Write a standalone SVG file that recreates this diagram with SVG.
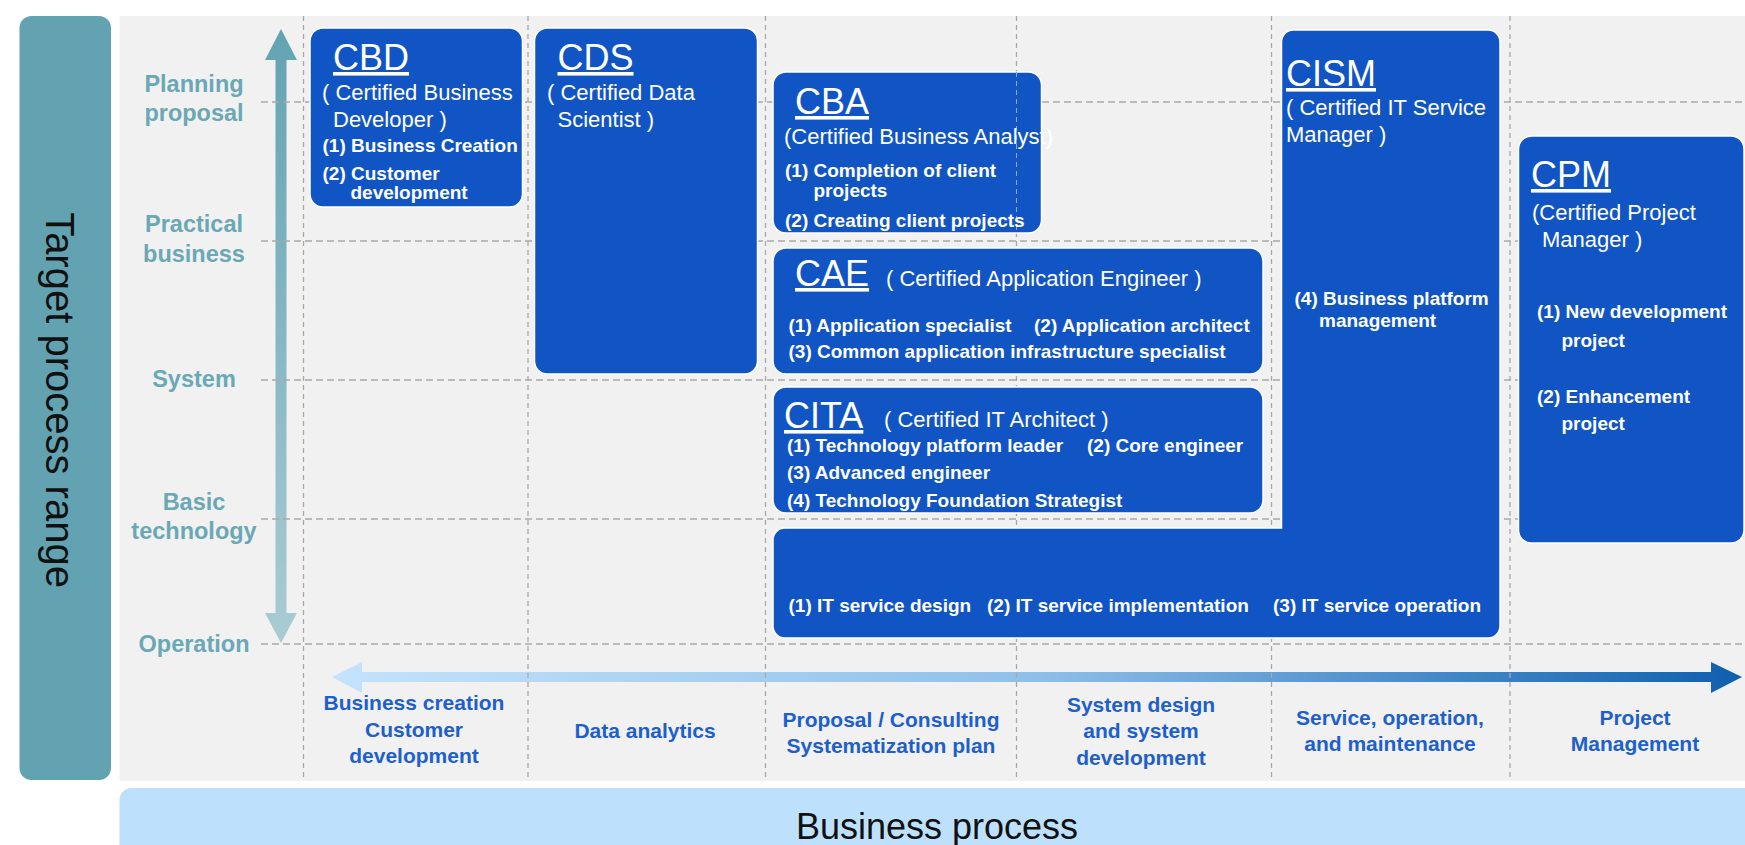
<svg xmlns="http://www.w3.org/2000/svg" width="1745" height="845" viewBox="0 0 1745 845">
<style>
text{font-family:"Liberation Sans",Arial,sans-serif;}
.box{fill:#1155c5;stroke:#ffffff;stroke-width:1.5;}
.grid{stroke:#a9a9a9;stroke-width:1.3;fill:none;}
.gh{stroke-dasharray:7 4;}
.gv{stroke-dasharray:5 4;}
.row{fill:#6aa8b6;font-weight:bold;font-size:23.5px;text-anchor:middle;}
.col{fill:#1d5fcb;font-weight:bold;font-size:21px;text-anchor:middle;}
.ttl{fill:#fff;font-size:36px;text-decoration:underline;}
.sub{fill:#fff;font-size:22px;}
.itm{fill:#fff;font-weight:bold;font-size:19px;}
</style>
<defs>
<linearGradient id="gv" x1="0" y1="0" x2="0" y2="1">
<stop offset="0" stop-color="#63a3b1"/>
<stop offset="1" stop-color="#a9ccd4"/>
</linearGradient>
<linearGradient id="gh" x1="0" y1="0" x2="1" y2="0">
<stop offset="0" stop-color="#c4e3fc"/>
<stop offset="0.5" stop-color="#8fbfe8"/>
<stop offset="1" stop-color="#0f5fae"/>
</linearGradient>
</defs>
<rect width="1745" height="845" fill="#ffffff"/>
<g id="axis-vertical-band">
<rect x="19.5" y="16" width="91.5" height="764" rx="12" fill="#63a3b1"/>
<text transform="translate(46,400) rotate(90)" font-size="40" text-anchor="middle" fill="#111">Target process range</text>
</g>
<rect id="background" x="119.5" y="16" width="1626" height="765" fill="#f1f1f1"/>
<g id="business-process-band">
<path d="M119.5,845 V800 A12,12 0 0 1 131.5,788 H1745 V845 Z" fill="#bde0fd"/>
<text x="937" y="839" font-size="36" text-anchor="middle" fill="#111">Business process</text>
</g>
<g id="connectors">
<path d="M281,29 L297,60 L286.5,60 L286.5,613 L297,613 L281,643 L265,613 L275.5,613 L275.5,60 L265,60 Z" fill="url(#gv)"/>
<path d="M332,677 L362,662 L362,672 L1711,672 L1711,662 L1742,677 L1711,693 L1711,682 L362,682 L362,693 Z" fill="url(#gh)"/>
</g>
<g id="grid">
<path class="grid gh" d="M261,102 H1745 M261,241 H1745 M261,380 H1745 M261,519 H1745 M261,644 H1745"/>
<path class="grid gv" d="M303.5,16 V781 M528,16 V781 M765.5,16 V781 M1016.5,16 V781 M1271.5,16 V781 M1510,16 V781"/>
</g>
<g id="row-labels">
<text class="row" x="194" y="92">Planning</text>
<text class="row" x="194" y="121">proposal</text>
<text class="row" x="194" y="232">Practical</text>
<text class="row" x="194" y="262">business</text>
<text class="row" x="194" y="387">System</text>
<text class="row" x="194" y="510">Basic</text>
<text class="row" x="194" y="539">technology</text>
<text class="row" x="194" y="652">Operation</text>
</g>
<g id="column-labels">
<text class="col" x="414" y="710">Business creation</text>
<text class="col" x="414" y="737">Customer</text>
<text class="col" x="414" y="763">development</text>
<text class="col" x="645" y="738">Data analytics</text>
<text class="col" x="891" y="727">Proposal / Consulting</text>
<text class="col" x="891" y="753">Systematization plan</text>
<text class="col" x="1141" y="712">System design</text>
<text class="col" x="1141" y="738">and system</text>
<text class="col" x="1141" y="765">development</text>
<text class="col" x="1390" y="725">Service, operation,</text>
<text class="col" x="1390" y="751">and maintenance</text>
<text class="col" x="1635" y="725">Project</text>
<text class="col" x="1635" y="751">Management</text>
</g>
<g id="cbd">
<rect class="box" x="310" y="28" width="212.5" height="179" rx="13"/>
<text class="ttl" x="333" y="70">CBD</text>
<text class="sub" x="322" y="100" font-size="21.5">( Certified Business</text>
<text class="sub" x="333" y="127" font-size="21.5">Developer )</text>
<text class="itm" x="322.5" y="152" font-size="18.5">(1) Business Creation</text>
<text class="itm" x="322.5" y="180" font-size="18.5">(2) Customer</text>
<text class="itm" x="350.5" y="199" font-size="18.5">development</text>
</g>
<g id="cds">
<rect class="box" x="534.5" y="28" width="223" height="346" rx="13"/>
<text class="ttl" x="557.5" y="70">CDS</text>
<text class="sub" x="547" y="100">( Certified Data</text>
<text class="sub" x="557.5" y="127">Scientist )</text>
</g>
<g id="cba">
<rect class="box" x="773" y="72" width="268.5" height="161" rx="13"/>
<path d="M1016.5,72 V233" fill="none" stroke="#8fa6d2" stroke-width="1" stroke-dasharray="5 4"/>
<text class="ttl" x="795" y="114">CBA</text>
<text class="sub" x="784" y="144" font-size="19.4">(Certified Business Analyst)</text>
<text class="itm" x="785" y="177">(1) Completion of client</text>
<text class="itm" x="813.5" y="197">projects</text>
<text class="itm" x="785" y="227">(2) Creating client projects</text>
</g>
<g id="cae">
<rect class="box" x="773" y="248" width="490" height="126" rx="13"/>
<text class="ttl" x="795" y="286">CAE</text>
<text class="sub" x="886" y="286" font-size="22.5">( Certified Application Engineer )</text>
<text class="itm" x="788.5" y="332">(1) Application specialist</text>
<text class="itm" x="1034" y="332">(2) Application architect</text>
<text class="itm" x="788.5" y="358">(3) Common application infrastructure specialist</text>
</g>
<g id="cita">
<rect class="box" x="773" y="387" width="490" height="126" rx="13"/>
<text class="ttl" x="784" y="428">CITA</text>
<text class="sub" x="884" y="427" font-size="22.5">( Certified IT Architect )</text>
<text class="itm" x="787" y="452">(1) Technology platform leader</text>
<text class="itm" x="1087" y="452">(2) Core engineer</text>
<text class="itm" x="787" y="479">(3) Advanced engineer</text>
<text class="itm" x="787" y="507">(4) Technology Foundation Strategist</text>
</g>
<g id="cism">
<path class="box" d="M1293.5,30 H1488 A12,12 0 0 1 1500,42 V626 A12,12 0 0 1 1488,638 H785 A12,12 0 0 1 773,626 V540 A12,12 0 0 1 785,528 H1281.5 V42 A12,12 0 0 1 1293.5,30 Z"/>
<text class="ttl" x="1286" y="86">CISM</text>
<text class="sub" x="1286" y="115" font-size="21.5">( Certified IT Service</text>
<text class="sub" x="1286" y="142" font-size="21.5">Manager )</text>
<text class="itm" x="1294.5" y="305">(4) Business platform</text>
<text class="itm" x="1319" y="327">management</text>
<text class="itm" x="788.5" y="612">(1) IT service design</text>
<text class="itm" x="987" y="612">(2) IT service implementation</text>
<text class="itm" x="1273" y="612">(3) IT service operation</text>
</g>
<g id="cpm">
<rect class="box" x="1518.5" y="136" width="225.5" height="407" rx="13"/>
<text class="ttl" x="1531" y="187">CPM</text>
<text class="sub" x="1532" y="220">(Certified Project</text>
<text class="sub" x="1542" y="247">Manager )</text>
<text class="itm" x="1537" y="318">(1) New development</text>
<text class="itm" x="1561.5" y="347">project</text>
<text class="itm" x="1537" y="403">(2) Enhancement</text>
<text class="itm" x="1561.5" y="430">project</text>
</g>
</svg>
